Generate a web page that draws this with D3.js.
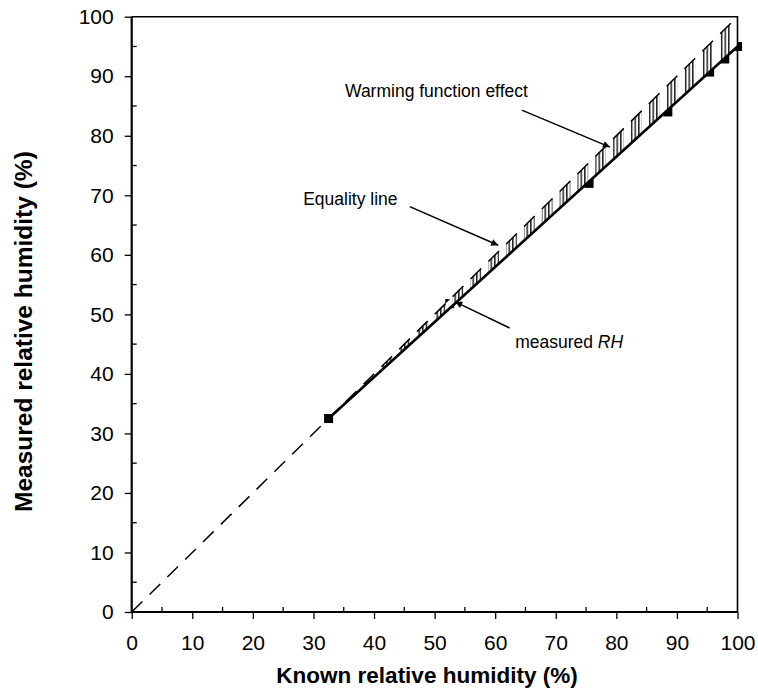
<!DOCTYPE html>
<html><head><meta charset="utf-8">
<script src="https://cdn.jsdelivr.net/npm/d3@7"></script>
<style>body{margin:0;background:#fff}svg{display:block}</style>
</head><body>
<svg id="c" width="758" height="693"></svg>
<script>
// ---- data ----
const xTicks = [0,10,20,30,40,50,60,70,80,90,100];
const yTicks = [0,10,20,30,40,50,60,70,80,90,100];
const minorTicks = [5,15,25,35,45,55,65,75,85,95];
const equalityLine = [[0,0],[100,100]];
const measuredFit = [[32.5,32.5],[100,95]];
const measuredPoints = [[32.5,32.5],[52.5,51.8],[75.5,72.0],[88.5,84.0],[95.4,90.7],[97.9,92.9],[100,95.0]];
const xTitle = "Known relative humidity (%)";
const yTitle = "Measured relative humidity (%)";

const svg = d3.select("#c");
const F = "'Liberation Sans', Arial, sans-serif";
const x = d3.scaleLinear().domain([0,100]).range([131.7,737.5]);
const y = d3.scaleLinear().domain([0,100]).range([612,16.7]);
const DASH = 15, GAP = 10;

// defs
const defs = svg.append("defs");
const pat = defs.append("pattern").attr("id","hatch").attr("patternUnits","userSpaceOnUse")
  .attr("width",3.6).attr("height",10);
pat.append("rect").attr("x",1).attr("width",1.3).attr("height",10).attr("fill","#000");
defs.append("marker").attr("id","arr").attr("viewBox","0 0 10 10").attr("refX",10).attr("refY",5)
  .attr("markerWidth",9).attr("markerHeight",7).attr("markerUnits","userSpaceOnUse").attr("orient","auto")
  .append("path").attr("d","M0,0L10,5L0,10z").attr("fill","#000");
// mask: hatch only below the dashes of the equality line
const L = Math.hypot(x(100)-x(0), y(0)-y(100));
const cosA = (x(100)-x(0))/L;
const mask = defs.append("mask").attr("id","dashmask").attr("maskUnits","userSpaceOnUse")
  .attr("x",0).attr("y",0).attr("width",758).attr("height",693);
const dashStarts = d3.range(0, L, DASH+GAP);
mask.selectAll("rect").data(dashStarts).join("rect")
  .attr("x",s=>x(0)+s*cosA).attr("width",DASH*cosA).attr("y",0).attr("height",693).attr("fill","#fff");

// markers
svg.append("g").selectAll("rect").data(measuredPoints).join("rect")
  .attr("x",d=>x(d[0])-4.5).attr("y",d=>y(d[1])-4.5).attr("width",9).attr("height",9).attr("fill","#000");

// warming effect area (between equality line and measured fit)
const areaData = measuredFit.map(d=>({x:d[0], lo:d[1], hi:d[0]}));
const areaGen = d3.area().x(d=>x(d.x)).y0(d=>y(d.lo)).y1(d=>y(d.hi));
svg.append("path").datum(areaData).attr("d", areaGen).attr("fill","#fff");
svg.append("path").datum(areaData).attr("d", areaGen).attr("fill","url(#hatch)").attr("mask","url(#dashmask)");

// equality line
svg.append("path").datum(equalityLine)
  .attr("d", d3.line().x(d=>x(d[0])).y(d=>y(d[1])))
  .attr("fill","none").attr("stroke","#000").attr("stroke-width",1.5).attr("stroke-dasharray",`${DASH},${GAP}`);

// measured fit line
svg.append("path").datum(measuredFit)
  .attr("d", d3.line().x(d=>x(d[0])).y(d=>y(d[1])))
  .attr("fill","none").attr("stroke","#000").attr("stroke-width",2.6);

// frame
svg.append("path").attr("d",`M${x(0)},${y(100)}H${x(100)}V${y(0)}`)
  .attr("fill","none").attr("stroke","#000").attr("stroke-width",1.6);

// axes
const xAxis = svg.append("g").attr("transform",`translate(0,${y(0)})`)
  .call(d3.axisBottom(x).tickValues(xTicks).tickSize(7).tickPadding(16).tickFormat(d3.format("d")));
const yAxis = svg.append("g").attr("transform",`translate(${x(0)},0)`)
  .call(d3.axisLeft(y).tickValues(yTicks).tickSize(7).tickPadding(11).tickFormat(d3.format("d")));
[xAxis,yAxis].forEach(g=>{
  g.select(".domain").attr("stroke-width",2.2).attr("d", g===xAxis ? `M${x(0)},0H${x(100)}` : `M0,${y(0)}V${y(100)}`);
  g.selectAll(".tick line").attr("stroke-width",1.3);
  g.selectAll("text").attr("font-family",F).attr("font-size",21).attr("fill","#000");
});
// minor ticks inside
svg.append("g").selectAll("line").data(minorTicks).join("line")
  .attr("x1",d=>x(d)).attr("x2",d=>x(d)).attr("y1",y(0)).attr("y2",y(0)-5)
  .attr("stroke","#000").attr("stroke-width",1.3);
svg.append("g").selectAll("line").data(minorTicks).join("line")
  .attr("y1",d=>y(d)).attr("y2",d=>y(d)).attr("x1",x(0)).attr("x2",x(0)+5)
  .attr("stroke","#000").attr("stroke-width",1.3);

// titles
svg.append("text").attr("x",427).attr("y",683).attr("text-anchor","middle")
  .attr("font-family",F).attr("font-weight","bold").attr("font-size",22.5).text(xTitle);
svg.append("text").attr("transform","translate(32,512) rotate(-90)").attr("text-anchor","start")
  .attr("font-family",F).attr("font-weight","bold").attr("font-size",24.5).text(yTitle);

// annotations (data coordinates)
const ann = [
  {text:"Warming function effect", tx:65.4, ty:86.5, anchor:"end", from:[64.4,84.3], to:[78.95,78.1]},
  {text:"Equality line", tx:28.3, ty:68.4, anchor:"start", from:[45.9,68.1], to:[60.5,61.6]},
];
ann.forEach(a=>{
  svg.append("text").attr("x",x(a.tx)).attr("y",y(a.ty)).attr("text-anchor",a.anchor)
    .attr("font-family",F).attr("font-size",17.5).text(a.text);
  svg.append("line").attr("x1",x(a.from[0])).attr("y1",y(a.from[1])).attr("x2",x(a.to[0])).attr("y2",y(a.to[1]))
    .attr("stroke","#000").attr("stroke-width",1.5).attr("marker-end","url(#arr)");
});
const mt = svg.append("text").attr("x",x(63.3)).attr("y",y(44.3))
  .attr("font-family",F).attr("font-size",17.5);
mt.append("tspan").text("measured ");
mt.append("tspan").attr("font-style","italic").text("RH");
svg.append("line").attr("x1",x(62.4)).attr("y1",y(47.7)).attr("x2",x(53.4)).attr("y2",y(52.1))
  .attr("stroke","#000").attr("stroke-width",1.5).attr("marker-end","url(#arr)");
</script>
</body></html>
